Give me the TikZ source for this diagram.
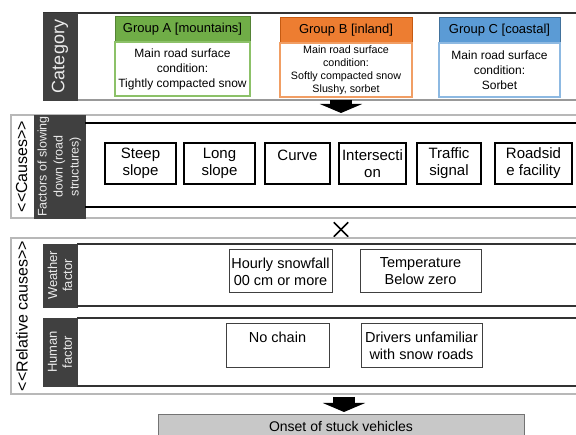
\documentclass[tikz,border=0pt]{standalone}
\usepackage{fontspec}
\setmainfont{Liberation Sans}
\usetikzlibrary{positioning,arrows.meta}
\definecolor{darkbox}{HTML}{404040}
\definecolor{greenA}{HTML}{70AD47}
\definecolor{greenAline}{HTML}{548235}
\definecolor{greenAbody}{HTML}{8CC168}
\definecolor{orangeB}{HTML}{ED7D31}
\definecolor{orangeBline}{HTML}{C55A11}
\definecolor{orangeBbody}{HTML}{F19E64}
\definecolor{blueC}{HTML}{5B9BD5}
\definecolor{blueCline}{HTML}{41719C}
\definecolor{blueCbody}{HTML}{8DB9E2}
\definecolor{onsetgray}{HTML}{C8C8C8}
\tikzstyle{sidelabel} = [rotate=90, fill=darkbox, draw=darkbox, text=black!8, align=center, inner sep=0pt, font=\fontsize{13}{15}\selectfont]
\tikzstyle{grouphead} = [minimum height=25pt, inner sep=0pt, line width=1pt, font=\fontsize{13}{15}\selectfont]
\tikzstyle{groupbody} = [minimum height=54pt, inner sep=0pt, fill=white, line width=1.2pt, align=center, font=\fontsize{12}{15}\selectfont]
\tikzstyle{causebox} = [draw=black, line width=1.1pt, minimum height=41pt, inner sep=0pt, align=center, font=\fontsize{15}{17}\selectfont]
\tikzstyle{factorbox} = [draw=black!75, line width=1pt, inner sep=0pt, align=center, font=\fontsize{14.5}{17}\selectfont]
\tikzstyle{arrow} = [line width=22pt, -{Triangle[width=42pt,length=9pt]}]
\tikzstyle{darkline} = [line width=2pt, black!80]
\tikzstyle{grayline} = [line width=1.2pt, black!28]

\begin{document}
\begin{tikzpicture}[x=1pt, y=-1pt]
    \useasboundingbox (0,0) rectangle (576,435);
    \clip (0,0) rectangle (576,435);

    % category row
    \draw [darkline, line width=1.6pt] (43,13) -- (600,13);
    \draw [line width=1.4pt, black!40] (43,100) -- (600,100);
    \node [sidelabel, minimum width=87pt, minimum height=34pt, font=\fontsize{18}{20}\selectfont] (category) at (60,56.5) {Category};

    \node [grouphead, fill=greenA, draw=greenAline, minimum width=135pt] (headA) at (182.5,29.5) {Group A [mountains]};
    \node [groupbody, draw=greenAbody, minimum width=135pt] (bodyA) at (182.5,69) {Main road surface\\condition:\\Tightly compacted snow};
    \node [grouphead, fill=orangeB, draw=orangeBline, minimum width=132pt] (headB) at (346,30.5) {Group B [inland]};
    \node [groupbody, draw=orangeBbody, minimum width=132pt, font=\fontsize{10.7}{13}\selectfont] (bodyB) at (346,70) {Main road surface\\condition:\\Softly compacted snow\\Slushy, sorbet};
    \node [grouphead, fill=blueC, draw=blueCline, minimum width=121pt] (headC) at (499.5,30.5) {Group C [coastal]};
    \node [groupbody, draw=blueCbody, minimum width=121pt] (bodyC) at (499.5,70) {Main road surface\\condition:\\Sorbet};

    \coordinate (catout) at (341,100);
    \coordinate (causein) at (341,113);
    \draw [arrow] (catout) -- (causein);

    % causes: road structures
    \draw [grayline] (11,115) rectangle (600,218);
    \node [rotate=90, font=\fontsize{16}{18}\selectfont] (causes) at (21.5,166.5) {<\kern0pt<Causes>\kern0pt>};
    \node [sidelabel, minimum width=103pt, minimum height=51pt, font=\fontsize{12.5}{16}\selectfont] (slowing) at (59.5,166.5) {Factors of slowing\\down (road\\structures)};
    \draw [line width=1.4pt] (85,123) -- (600,123);
    \draw [line width=1.4pt] (85,207) -- (600,207);

    \node [causebox, minimum width=71pt] (steep) at (140.5,163.5) {Steep\\slope};
    \node [causebox, minimum width=71pt] (long) at (219.5,163.5) {Long\\slope};
    \node [causebox, minimum width=65pt] (curve) at (297.5,163.5) {Curve\\\mbox{}};
    \node [causebox, minimum width=67pt] (inter) at (372.5,163.5) {Intersecti\\on};
    \node [causebox, minimum width=64pt] (signal) at (449,163.5) {Traffic\\signal};
    \node [causebox, minimum width=77pt] (roadside) at (533.5,163.5) {Roadsid\\e facility};

    \node [minimum size=14pt, inner sep=0pt] (times) at (341,229.5) {};
    \draw [line width=1.6pt] (times.north west) -- (times.south east);
    \draw [line width=1.6pt] (times.south west) -- (times.north east);

    % relative causes
    \draw [grayline] (11,238) rectangle (600,394);
    \node [rotate=90, font=\fontsize{16}{18}\selectfont] (relative) at (22,316) {<\kern0pt<Relative causes>\kern0pt>};

    \node [sidelabel, minimum width=63pt, minimum height=34pt] (weather) at (60,275.5) {Weather\\factor};
    \draw [darkline] (77,244) -- (600,244);
    \draw [darkline] (77,306) -- (600,306);
    \node [factorbox, minimum width=103pt, minimum height=43pt] (snowfall) at (280.5,271.5) {Hourly snowfall\\00 cm or more};
    \node [factorbox, minimum width=121pt, minimum height=43pt] (temp) at (420.5,271.5) {Temperature\\Below zero};

    \node [sidelabel, minimum width=68pt, minimum height=34pt] (human) at (60,352) {Human\\factor};
    \draw [darkline] (77,318) -- (600,318);
    \draw [darkline] (77,386) -- (600,386);
    \node [factorbox, minimum width=103pt, minimum height=44pt] (chain) at (277.5,346) {No chain\\\mbox{}};
    \node [factorbox, minimum width=121pt, minimum height=44pt] (drivers) at (421.5,346) {Drivers unfamiliar\\with snow roads};

    \coordinate (relout) at (344,397);
    \coordinate (onsetin) at (344,412);
    \draw [arrow] (relout) -- (onsetin);

    \node [anchor=north, fill=onsetgray, draw=black!55, line width=1pt, minimum width=366pt, minimum height=24pt, inner sep=0pt, font=\fontsize{14}{16}\selectfont] (onset) at (341,414) {Onset of stuck vehicles};
\end{tikzpicture}
\end{document}
